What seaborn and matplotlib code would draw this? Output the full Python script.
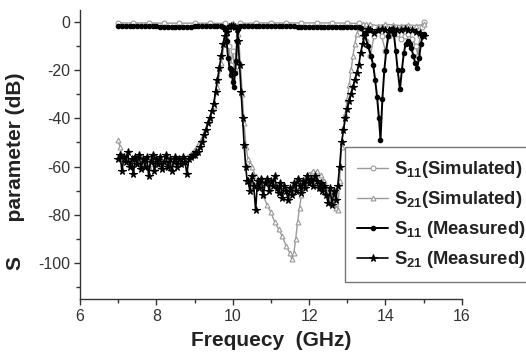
import matplotlib
matplotlib.use("Agg")
import matplotlib.pyplot as plt
import seaborn as sns
import numpy as np

# ---------------- data ----------------
# Measured S21 (stars)
f_s21_meas = [7.00, 7.05, 7.10, 7.15, 7.20, 7.25, 7.30, 7.35, 7.40, 7.45, 7.50, 7.55, 7.60, 7.65,
              7.70, 7.75, 7.80, 7.85, 7.90, 7.95, 8.00, 8.05, 8.10, 8.15, 8.20, 8.25, 8.30, 8.35,
              8.40, 8.45, 8.50, 8.55, 8.60, 8.65, 8.70, 8.75, 8.80, 8.85,
              8.90, 8.95, 9.00, 9.05, 9.10, 9.15, 9.20, 9.25, 9.30, 9.35, 9.40, 9.45, 9.50, 9.55,
              9.60, 9.65, 9.70, 9.75, 9.80, 9.85, 9.90, 9.95, 10.00, 10.05, 10.10, 10.14, 10.18,
              10.22, 10.26, 10.30, 10.34, 10.38,
              10.40, 10.45, 10.50, 10.55, 10.60, 10.65, 10.70, 10.75, 10.80, 10.85, 10.90, 10.95,
              11.00, 11.05, 11.10, 11.15, 11.20, 11.25, 11.30, 11.35, 11.40, 11.45, 11.50, 11.55,
              11.60, 11.65, 11.70, 11.75, 11.80, 11.85, 11.90, 11.95, 12.00, 12.05, 12.10, 12.15,
              12.20, 12.25, 12.30, 12.35, 12.40, 12.45, 12.50, 12.55, 12.60, 12.65, 12.70, 12.75,
              12.80, 12.85, 12.90, 12.95, 13.00, 13.05, 13.10, 13.15, 13.20, 13.25, 13.30, 13.35,
              13.40, 13.45, 13.50, 13.55,
              13.60, 13.70, 13.80, 13.90, 14.00, 14.10, 14.20, 14.30, 14.40, 14.50, 14.60, 14.70,
              14.80, 14.90, 15.00]
s21_meas = [-57, -55, -62, -56, -58, -54, -60, -57, -63, -56, -59, -55, -61, -57,
            -60, -56, -64, -58, -55, -62, -57, -59, -56, -61, -58, -55, -60, -57,
            -62, -58, -56, -60, -57, -59, -56, -58, -63, -57,
            -56, -55, -55, -54, -54, -52, -50, -47, -45, -42, -40, -37, -34, -29,
            -24, -19, -14, -9, -6, -4, -2.2, -1.8, -1.8, -2.0, -3.0, -8, -18,
            -29, -40, -51, -60, -66,
            -66, -70, -64, -68, -78, -66, -69, -65, -72, -67, -65, -70,
            -66, -68, -64, -69, -71, -67, -73, -68, -70, -74, -69, -72,
            -67, -70, -65, -68, -71, -66, -69, -64, -67, -65, -68, -64,
            -66, -69, -67, -70, -68, -72, -75, -69, -76, -70, -74, -68,
            -60, -50, -45, -40, -36, -33, -30, -27, -24, -21, -18, -13,
            -9, -6, -4, -3,
            -3.5, -4.5, -3.5, -3.0, -3.2, -3.5, -3.0, -3.3, -3.5, -3.0, -3.2, -3.5,
            -4.0, -4.5, -6.0]

# Measured S11 (dots)
f_s11_meas = [7.0, 7.1, 7.2, 7.3, 7.4, 7.5, 7.6, 7.7, 7.8, 7.9, 8.0, 8.1, 8.2, 8.3, 8.4, 8.5,
              8.6, 8.7, 8.8, 8.9, 9.0, 9.1, 9.2, 9.3, 9.4, 9.5, 9.6, 9.7, 9.75,
              9.80, 9.84, 9.88, 9.92, 9.95, 9.98, 10.00, 10.03, 10.06, 10.09, 10.12, 10.15, 10.20,
              10.3, 10.4, 10.5, 10.6, 10.7, 10.8, 10.9, 11.0, 11.1, 11.2, 11.3, 11.4, 11.5, 11.6,
              11.7, 11.8, 11.9, 12.0, 12.1, 12.2, 12.3, 12.4, 12.5, 12.6, 12.7, 12.8, 12.9, 13.0,
              13.1, 13.2, 13.3, 13.35, 13.45, 13.55, 13.62, 13.68, 13.73, 13.78, 13.83, 13.87, 13.92,
              13.97, 14.02, 14.07, 14.12, 14.17, 14.22, 14.27, 14.32, 14.38, 14.43, 14.48, 14.53,
              14.58, 14.63, 14.68, 14.73, 14.78, 14.83, 14.88, 14.93, 14.97, 15.00]
s11_meas = [-1.5, -1.5, -1.5, -1.6, -1.6, -1.6, -1.6, -1.7, -1.7, -1.8, -1.8, -1.9, -1.9, -2.0, -2.0, -2.0,
            -2.0, -2.0, -1.9, -1.9, -1.8, -1.8, -1.7, -1.7, -1.6, -1.6, -1.6, -1.7, -2.0,
            -3, -8, -15, -19, -22, -20, -25, -27, -21, -16, -8, -3, -1.8,
            -1.5, -1.5, -1.5, -1.6, -1.6, -1.6, -1.6, -1.7, -1.7, -1.7, -1.8, -1.8, -1.8, -1.8,
            -1.9, -1.9, -1.9, -2.0, -2.0, -2.0, -2.0, -2.0, -2.0, -2.0, -2.0, -2.0, -2.0, -2.0,
            -2.0, -2.0, -2.2, -2.5, -5, -10, -14, -18, -24, -31, -40, -49, -32,
            -20, -12, -6, -3.5, -3.0, -5, -12, -20, -28, -20, -13, -9,
            -8, -9, -11, -14, -17, -19, -15, -9, -6, -5]

# Simulated S11 (open circles)
f_s11_sim = [7.0, 7.4, 7.8, 8.2, 8.6, 9.0, 9.4, 9.8, 9.85, 9.90, 9.95, 10.00, 10.05, 10.10,
             10.15, 10.2, 10.6, 11.0, 11.4, 11.8, 12.2, 12.6, 13.0, 13.3, 13.4, 13.5, 13.6, 13.7,
             13.8, 13.9, 14.0, 14.1, 14.2, 14.3, 14.4, 14.5, 14.6, 14.7, 14.8, 14.85, 14.9,
             14.95, 15.0]
s11_sim = [-0.4, -0.4, -0.4, -0.5, -0.5, -0.5, -0.5, -0.6, -3, -10, -18, -12, -20, -8,
           -2, -0.6, -0.4, -0.4, -0.4, -0.4, -0.4, -0.4, -0.5, -0.6, -2, -8, -14, -6,
           -3, -6, -12, -6, -3, -5, -7, -6, -5, -7, -10, -14, -6,
           -2, 0]

# Simulated S21 (open triangles)
f_s21_sim = [7.0, 7.05, 7.1, 7.2, 7.4, 7.6, 7.8, 8.0, 8.2, 8.4, 8.6, 8.8, 9.0, 9.2, 9.4, 9.5,
             9.6, 9.7, 9.8, 9.85, 9.9, 10.0, 10.1, 10.15, 10.2, 10.25, 10.3, 10.35, 10.4, 10.45,
             10.5, 10.6, 10.7, 10.8, 10.9, 11.0, 11.1, 11.2, 11.3, 11.4, 11.5, 11.55, 11.6,
             11.65, 11.7, 11.75, 11.8, 11.85, 11.9, 12.0, 12.1, 12.2, 12.3, 12.4, 12.5, 12.6,
             12.7, 12.75, 12.8, 12.85, 12.9, 12.95, 13.0, 13.05, 13.1, 13.15, 13.2, 13.25, 13.3,
             13.4, 13.5, 13.6, 13.8, 14.0, 14.2, 14.4, 14.6, 14.8, 15.0]
s21_sim = [-49, -52, -55, -57, -59, -60, -60, -60, -60, -59, -58, -56, -53, -48, -40, -35,
           -27, -17, -7, -3, -1.2, -0.6, -1.5, -5, -17, -30, -42, -52, -57, -59,
           -60, -64, -68, -72, -76, -79, -83, -86, -89, -93, -96, -98.5, -96,
           -90, -83, -77, -72, -68, -65, -63, -62, -62, -63.5, -66, -70, -74,
           -77, -78, -66, -52, -44, -38, -32, -26, -20, -14, -9, -5, -2.5,
           -1.0, -0.8, -1.0, -1.5, -1.0, -1.2, -1.5, -1.2, -1.5, -1.0]

x_ticks = [6, 8, 10, 12, 14, 16]
y_ticks = [0, -20, -40, -60, -80, -100]

# ---------------- style ----------------
sns.set_style("ticks")
plt.rcParams["font.family"] = ["Liberation Sans", "DejaVu Sans"]
plt.rcParams["mathtext.fontset"] = "custom"
plt.rcParams["mathtext.bf"] = "Liberation Sans:bold"
plt.rcParams["mathtext.rm"] = "Liberation Sans"
plt.rcParams["axes.unicode_minus"] = False

fig = plt.figure(figsize=(5.26, 3.54), dpi=100)
ax = fig.add_axes([0.152, 0.155, 0.726, 0.817])

grey = "#9a9a9a"
series = [
    (f_s11_sim, s11_sim, "o", grey, "white", 3.5, 1.0, r"$\mathbf{S_{11}}$(Simulated)"),
    (f_s21_sim, s21_sim, "^", grey, "white", 3.5, 1.0, r"$\mathbf{S_{21}}$(Simulated)"),
    (f_s11_meas, s11_meas, "o", "black", "black", 3.2, 1.4, r"$\mathbf{S_{11}}$ (Measured)"),
    (f_s21_meas, s21_meas, "*", "black", "black", 5.5, 1.2, r"$\mathbf{S_{21}}$ (Measured)"),
]
for fx, fy, mk, col, fc, ms, lw, lab in series:
    sns.lineplot(x=fx, y=fy, ax=ax, sort=False, estimator=None, color=col,
                 linewidth=lw, marker=mk, markersize=ms, markerfacecolor=fc,
                 markeredgecolor=col, markeredgewidth=0.8, label=lab)

ax.set_xlim(6, 16)
ax.set_ylim(-115, 5)
ax.set_xticks(x_ticks)
ax.set_yticks(y_ticks)
ax.set_xticks([7, 9, 11, 13, 15], minor=True)
ax.set_yticks([-10, -30, -50, -70, -90, -110], minor=True)
ax.tick_params(axis="both", which="major", direction="out", length=4, width=1,
               labelsize=11.5, colors="#333333", pad=3)
ax.tick_params(axis="both", which="minor", direction="out", length=3, width=1, colors="#333333")
for s in ["top", "right"]:
    ax.spines[s].set_visible(False)
for s in ["left", "bottom"]:
    ax.spines[s].set_color("#333333")
    ax.spines[s].set_linewidth(1.0)

ax.set_xlabel("Frequecy  (GHz)", fontsize=15, fontweight="bold", color="#222222", labelpad=5)
ax.set_ylabel("S      parameter (dB)", fontsize=15, fontweight="bold", color="#222222")
ax.yaxis.set_label_coords(-0.144, 0.443)

leg = ax.legend(loc="upper left", bbox_to_anchor=(345 / 526, 1 - 147 / 354),
                bbox_transform=fig.transFigure, frameon=True, fancybox=False,
                prop={"weight": "bold", "size": 13.2}, handlelength=1.7,
                labelspacing=0.5, borderpad=0.65, handletextpad=0.3, borderaxespad=0)
leg.get_frame().set_edgecolor("#555555")
leg.get_frame().set_linewidth(1.0)
for t in leg.get_texts():
    t.set_color("#222222")

fig.savefig("out.png", dpi=100)
